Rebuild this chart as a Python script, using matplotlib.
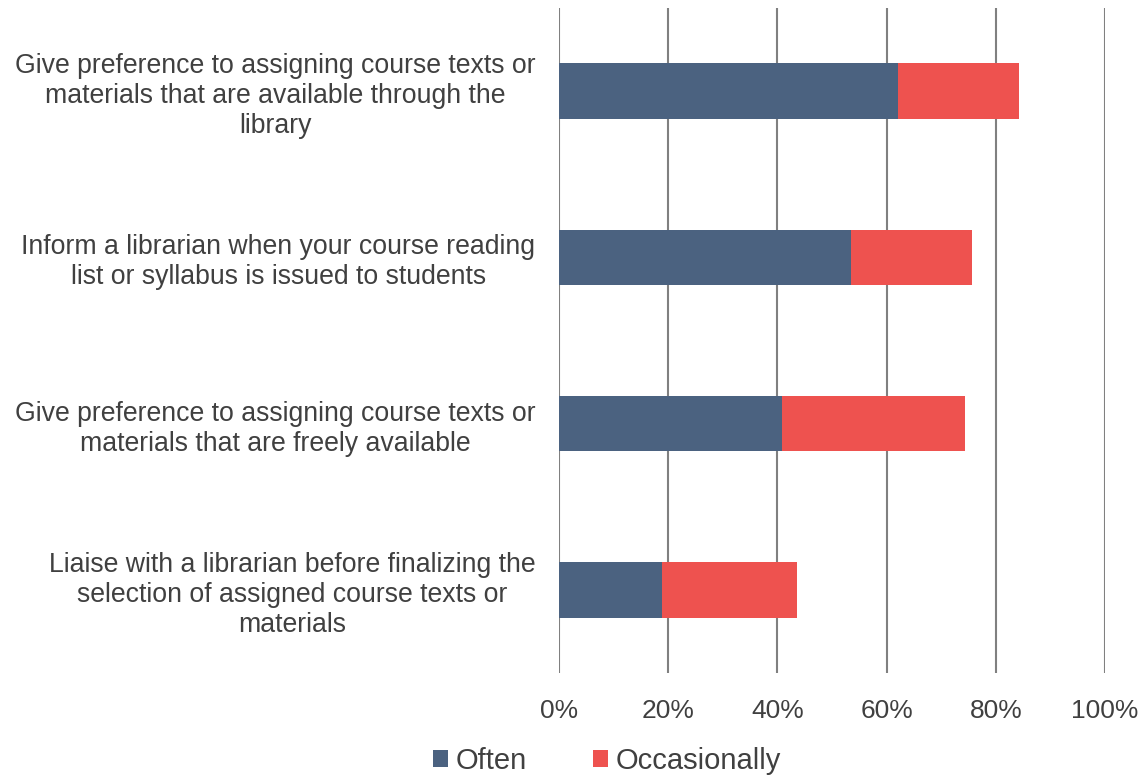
import matplotlib.pyplot as plt
import numpy as np

plt.rcParams['font.family'] = ['Liberation Sans', 'DejaVu Sans']

# Survey items (bottom to top in the chart)
items = [
    "Liaise with a librarian before finalizing the\nselection of assigned course texts or\nmaterials",
    "Give preference to assigning course texts or\nmaterials that are freely available",
    "Inform a librarian when your course reading\nlist or syllabus is issued to students",
    "Give preference to assigning course texts or\nmaterials that are available through the\nlibrary",
]
often = [18.8, 40.8, 53.4, 62.0]
occasionally = [24.8, 33.6, 22.2, 22.2]
x_ticks = [0, 20, 40, 60, 80, 100]
x_labels = ["0%", "20%", "40%", "60%", "80%", "100%"]

text_color = "#404040"
often_color = "#4B6280"
occ_color = "#EE524F"

fig = plt.figure(figsize=(11.45, 7.77), dpi=100)
ax = fig.add_axes([559 / 1145, 1 - 673 / 777, (1105 - 559) / 1145, (673 - 8) / 777])

y = np.arange(len(items))
ax.barh(y, often, height=0.335, color=often_color, label="Often", zorder=3)
ax.barh(y, occasionally, left=often, height=0.335, color=occ_color,
        label="Occasionally", zorder=3)

ax.set_xlim(0, 100)
ax.set_ylim(-0.5, len(items) - 0.5)
ax.set_xticks(x_ticks)
ax.set_xticklabels(x_labels, fontsize=19, color=text_color)
ax.set_yticks(y)
ax.set_yticklabels(items, fontsize=19.2, color=text_color, ha="right", ma="center",
                   linespacing=1.2)
ax.tick_params(axis="both", length=0)
ax.tick_params(axis="y", pad=17)
ax.tick_params(axis="x", pad=19)

ax.grid(axis="x", color="#808080", linewidth=1.5, zorder=0)
for s in ax.spines.values():
    s.set_visible(False)

handles, labels = ax.get_legend_handles_labels()
fig.legend(handles, labels, loc="center", bbox_to_anchor=(607 / 1145, 1 - 761 / 777),
           ncol=2, frameon=False, fontsize=21, labelcolor=text_color,
           handlelength=0.5, handleheight=0.5, handletextpad=0.25, columnspacing=2.3)

fig.savefig("out.png", dpi=100)
